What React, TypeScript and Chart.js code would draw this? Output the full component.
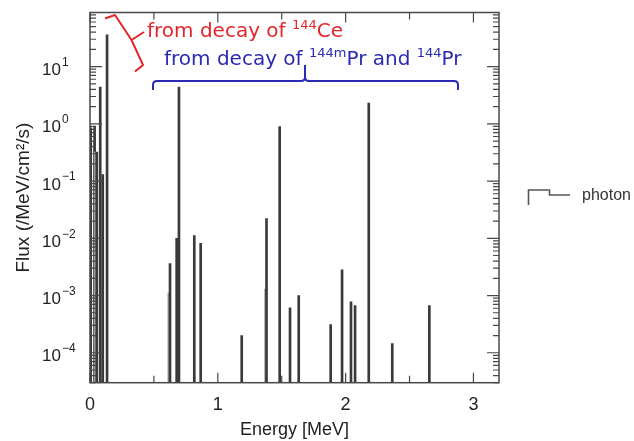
import { useEffect, useRef } from 'react';
import { Chart, registerables } from 'chart.js';

Chart.register(...registerables);

// Photon line energies (MeV) and flux (/MeV/cm^2/s)
const energies = [
  0.0053, 0.0355, 0.0361, 0.0407, 0.0534, 0.0801, 0.0999, 0.1335,
  0.617, 0.626, 0.678, 0.696, 0.816, 0.866, 1.187, 1.374, 1.381, 1.484,
  1.565, 1.633, 1.883, 1.972, 2.042, 2.074, 2.181, 2.365, 2.655,
];
const fluxes = [
  0.85, 0.5, 0.9, 0.32, 0.32, 4.4, 0.13, 35.8,
  1.1e-3, 3.6e-3, 1.0e-2, 4.4, 1.12e-2, 8.2e-3, 2.0e-4, 1.3e-3, 2.2e-2, 0.89,
  6.1e-4, 1.0e-3, 3.1e-4, 2.8e-3, 7.8e-4, 6.7e-4, 2.3, 1.45e-4, 6.7e-4,
];
const xTickLabels = [0, 1, 2, 3];
const yTickExponents = [-4, -3, -2, -1, 0, 1];
const seriesName = 'photon';
const xTitle = 'Energy [MeV]';
const yTitle = 'Flux (/MeV/cm\u00B2/s)';

const AXIS_FONT = "'Liberation Sans', Arial, sans-serif";
const NOTE_FONT = "'DejaVu Sans', Verdana, sans-serif";

function drawRich(ctx: CanvasRenderingContext2D, x: number, y: number, parts: [string, boolean][], color: string) {
  ctx.fillStyle = color;
  ctx.textBaseline = 'alphabetic';
  ctx.textAlign = 'left';
  let cx = x;
  for (const [t, isSup] of parts) {
    ctx.font = isSup ? `13px ${NOTE_FONT}` : `20px ${NOTE_FONT}`;
    ctx.fillText(t, cx, isSup ? y - 8 : y);
    cx += ctx.measureText(t).width;
  }
}

const overlay = {
  id: 'overlay',
  afterDraw(chart: any) {
    const { ctx, chartArea: a, scales } = chart;
    const xs = scales.x;
    const ys = scales.y;
    ctx.save();
    // frame
    ctx.strokeStyle = '#484848';
    ctx.lineWidth = 1.5;
    ctx.strokeRect(a.left, a.top, a.right - a.left, a.bottom - a.top);
    // ticks
    ctx.lineWidth = 1.2;
    ctx.beginPath();
    for (let v = 0; v <= 3.0001; v += 0.5) {
      const px = xs.getPixelForValue(v);
      const len = Math.abs(v - Math.round(v)) < 1e-6 ? 10 : 7;
      ctx.moveTo(px, a.bottom);
      ctx.lineTo(px, a.bottom - len);
      ctx.moveTo(px, a.top);
      ctx.lineTo(px, a.top + len);
    }
    for (let n = -6; n <= 2; n++) {
      for (let k = 1; k <= 9; k++) {
        const v = k * Math.pow(10, n);
        if (v < ys.min || v > ys.max) continue;
        const py = ys.getPixelForValue(v);
        const len = k === 1 ? 12 : 6;
        ctx.moveTo(a.left, py);
        ctx.lineTo(a.left + len, py);
        ctx.moveTo(a.right, py);
        ctx.lineTo(a.right - len, py);
      }
    }
    ctx.stroke();

    // y tick labels: 10 with superscript exponent
    ctx.fillStyle = '#222';
    ctx.textAlign = 'left';
    ctx.textBaseline = 'middle';
    for (const n of yTickExponents) {
      const py = ys.getPixelForValue(Math.pow(10, n));
      ctx.font = `17px ${AXIS_FONT}`;
      ctx.fillText('10', 42, py + 4);
      const w = ctx.measureText('10').width;
      ctx.font = `12px ${AXIS_FONT}`;
      ctx.fillText(n < 0 ? '\u2212' + Math.abs(n) : String(n), 42 + w + 1, py - 4);
    }

    // red brace + text
    const red = '#e2262b';
    ctx.strokeStyle = red;
    ctx.lineWidth = 2;
    ctx.lineJoin = 'round';
    ctx.beginPath();
    ctx.moveTo(105, 18.5);
    ctx.lineTo(115, 15);
    ctx.lineTo(131.5, 40);
    ctx.lineTo(143, 65);
    ctx.lineTo(135, 71.5);
    ctx.moveTo(131.5, 40);
    ctx.lineTo(144, 32);
    ctx.stroke();
    drawRich(ctx, 147, 37, [['from decay of ', false], ['144', true], ['Ce', false]], red);

    // blue bracket + text
    const blue = '#2a2ab4';
    ctx.strokeStyle = blue;
    ctx.beginPath();
    ctx.moveTo(153, 90);
    ctx.lineTo(153, 85);
    ctx.quadraticCurveTo(153, 81, 157, 81);
    ctx.lineTo(301, 81);
    ctx.quadraticCurveTo(305, 81, 305, 77);
    ctx.lineTo(305, 65);
    ctx.moveTo(305, 77);
    ctx.quadraticCurveTo(305, 81, 309, 81);
    ctx.lineTo(454, 81);
    ctx.quadraticCurveTo(458, 81, 458, 85);
    ctx.lineTo(458, 90);
    ctx.stroke();
    drawRich(
      ctx, 164, 65,
      [['from decay of ', false], ['144m', true], ['Pr and ', false], ['144', true], ['Pr', false]],
      blue,
    );

    // legend
    ctx.strokeStyle = '#555';
    ctx.lineWidth = 1.6;
    ctx.lineJoin = 'miter';
    ctx.beginPath();
    ctx.moveTo(528.5, 205);
    ctx.lineTo(528.5, 190);
    ctx.lineTo(549.5, 190);
    ctx.lineTo(549.5, 195);
    ctx.lineTo(570, 195);
    ctx.stroke();
    ctx.fillStyle = '#333';
    ctx.font = `16px ${AXIS_FONT}`;
    ctx.textBaseline = 'middle';
    ctx.textAlign = 'left';
    ctx.fillText(seriesName, 582, 196);
    ctx.restore();
  },
};

export default function App() {
  const ref = useRef<HTMLCanvasElement | null>(null);
  useEffect(() => {
    document.body.style.margin = '0';
    const canvas = ref.current;
    if (!canvas) return;
    const chart = new Chart(canvas, {
      type: 'bar',
      data: {
        datasets: [
          {
            label: seriesName,
            data: energies.map((e, i) => ({ x: e, y: fluxes[i] })),
            barThickness: 2,
            borderWidth: 0,
            grouped: false,
            backgroundColor: (c: any) => {
              const i = c.dataIndex;
              const e = energies[i];
              const f = fluxes[i];
              const covered = energies.some((e2, j) => j !== i && Math.abs(e2 - e) < 0.012 && fluxes[j] > f);
              return covered ? '#9c9c9c' : '#3a3a3a';
            },
          } as any,
        ],
      },
      options: {
        responsive: false,
        animation: false,
        layout: { padding: { left: 0, right: 135, top: 12.5, bottom: 0 } },
        plugins: { legend: { display: false }, tooltip: { enabled: false } },
        scales: {
          x: {
            type: 'linear',
            min: 0,
            max: 3.2,
            offset: false,
            grid: { display: false, drawTicks: false },
            border: { display: false },
            ticks: {
              stepSize: 0.5,
              includeBounds: false,
              padding: 12,
              color: '#222',
              font: { family: AXIS_FONT, size: 18 },
              maxRotation: 0,
              autoSkip: false,
              callback: (v: any) => (xTickLabels.includes(Number(v)) ? String(v) : ''),
            },
            title: {
              display: true,
              text: xTitle,
              color: '#222',
              font: { family: AXIS_FONT, size: 18 },
              padding: { top: 0, bottom: 0 },
            },
            afterFit: (s: any) => {
              s.height = 58.3;
              s.paddingLeft = 0;
              s.paddingRight = 0;
            },
          },
          y: {
            type: 'logarithmic',
            min: 3e-5,
            max: 88,
            grid: { display: false, drawTicks: false },
            border: { display: false },
            afterBuildTicks: (s: any) => {
              s.ticks = yTickExponents.map((n) => ({ value: Math.pow(10, n) }));
            },
            ticks: { display: false },
            title: {
              display: true,
              text: yTitle,
              color: '#222',
              font: { family: AXIS_FONT, size: 19 },
              padding: { top: 12, bottom: 0 },
            },
            afterFit: (s: any) => {
              s.width = 90;
              s.paddingTop = 0;
              s.paddingBottom = 0;
            },
          },
        },
      },
      plugins: [overlay],
    });
    return () => chart.destroy();
  }, []);
  return (
    <div style={{ position: 'fixed', left: 0, top: 0, width: 634, height: 441, background: '#fff' }}>
      <canvas ref={ref} width={634} height={441} style={{ width: 634, height: 441 }} />
    </div>
  );
}
